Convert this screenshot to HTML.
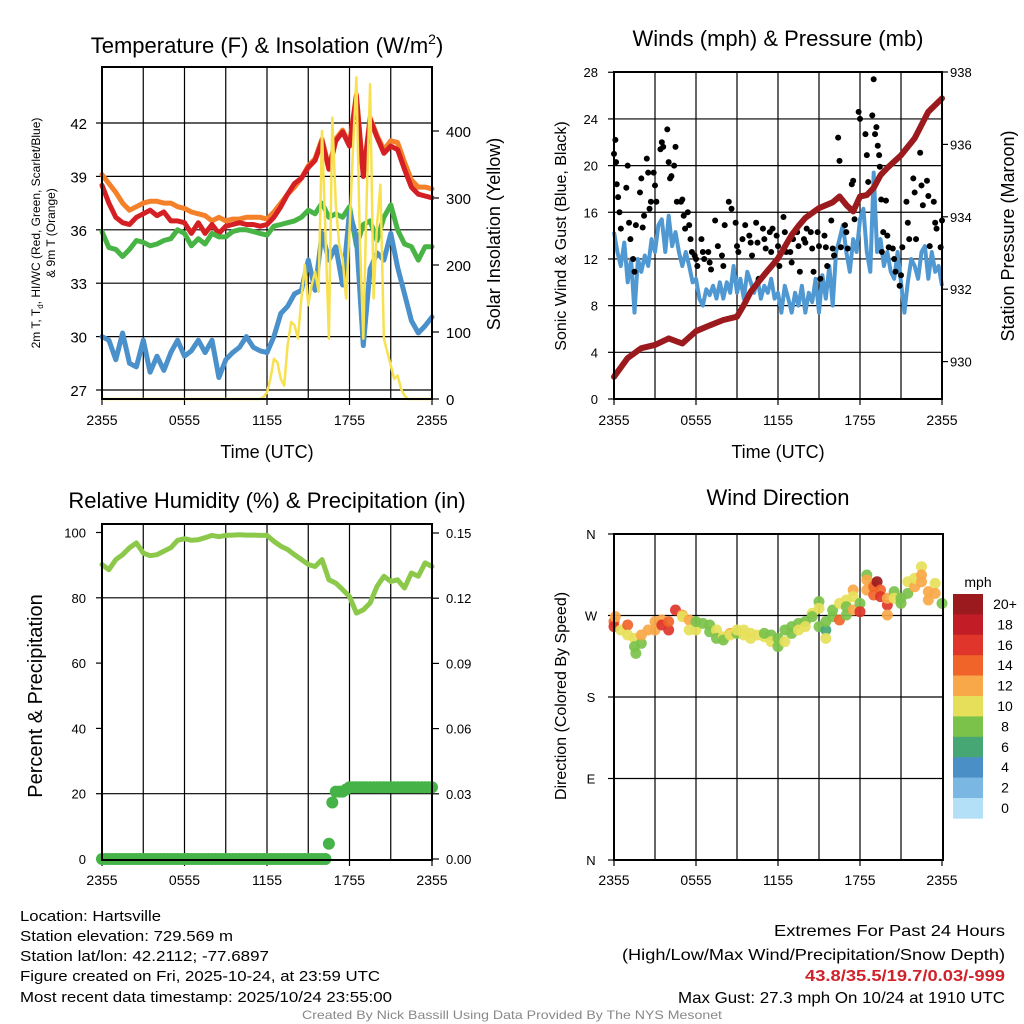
<!DOCTYPE html>
<html><head><meta charset="utf-8">
<style>
html,body{margin:0;padding:0;background:#fff;}
svg{display:block;font-family:"Liberation Sans",Arial,sans-serif;}
</style></head>
<body>
<svg id="fig" xmlns="http://www.w3.org/2000/svg" width="1024" height="1024" viewBox="0 0 1024 1024">
<rect x="0" y="0" width="1024" height="1024" fill="#fff"/>
<text x="267" y="53" font-size="22" text-anchor="middle">Temperature (F) &amp; Insolation (W/m<tspan font-size="14" dy="-9">2</tspan><tspan dy="9">)</tspan></text>
<text x="778" y="46" font-size="22" text-anchor="middle">Winds (mph) &amp; Pressure (mb)</text>
<text x="267" y="508" font-size="22" text-anchor="middle">Relative Humidity (%) &amp; Precipitation (in)</text>
<text x="778" y="505" font-size="22" text-anchor="middle">Wind Direction</text>
<text x="267" y="458" font-size="18" text-anchor="middle">Time (UTC)</text>
<text x="778" y="458" font-size="18" text-anchor="middle">Time (UTC)</text>
<text transform="translate(40,233) rotate(-90)" font-size="12" text-anchor="middle">2m T, T<tspan font-size="8" dy="3">d</tspan><tspan dy="-3">, HI/WC (Red, Green, Scarlet/Blue)</tspan></text>
<text transform="translate(55,233) rotate(-90)" font-size="12" text-anchor="middle">&amp; 9m T (Orange)</text>
<text transform="translate(500,234) rotate(-90)" font-size="18" text-anchor="middle">Solar Insolation (Yellow)</text>
<text transform="translate(566,236) rotate(-90)" font-size="16" text-anchor="middle">Sonic Wind &amp; Gust (Blue, Black)</text>
<text transform="translate(1014,236) rotate(-90)" font-size="18" text-anchor="middle">Station Pressure (Maroon)</text>
<text transform="translate(42,696) rotate(-90)" font-size="20" text-anchor="middle">Percent &amp; Precipitation</text>
<text transform="translate(566,696) rotate(-90)" font-size="16" text-anchor="middle">Direction (Colored By Speed)</text>
<text x="978" y="587" font-size="14" text-anchor="middle">mph</text>
<g font-size="15">
<text x="20" y="921" textLength="141" lengthAdjust="spacingAndGlyphs">Location: Hartsville</text>
<text x="20" y="941" textLength="213" lengthAdjust="spacingAndGlyphs">Station elevation: 729.569 m</text>
<text x="20" y="961" textLength="249" lengthAdjust="spacingAndGlyphs">Station lat/lon: 42.2112; -77.6897</text>
<text x="20" y="981" textLength="360" lengthAdjust="spacingAndGlyphs">Figure created on Fri, 2025-10-24, at 23:59 UTC</text>
<text x="20" y="1002" textLength="372" lengthAdjust="spacingAndGlyphs">Most recent data timestamp: 2025/10/24 23:55:00</text>
</g>
<g font-size="16" text-anchor="end">
<text x="1005" y="936" textLength="231" lengthAdjust="spacingAndGlyphs">Extremes For Past 24 Hours</text>
<text x="1005" y="960" textLength="383" lengthAdjust="spacingAndGlyphs">(High/Low/Max Wind/Precipitation/Snow Depth)</text>
<text x="1005" y="981" fill="#d0222a" font-weight="bold" textLength="200" lengthAdjust="spacingAndGlyphs">43.8/35.5/19.7/0.03/-999</text>
<text x="1005" y="1003" textLength="327" lengthAdjust="spacingAndGlyphs">Max Gust: 27.3 mph On 10/24 at 1910 UTC</text>
</g>
<text x="512" y="1019" font-size="12" fill="#888" text-anchor="middle" textLength="420" lengthAdjust="spacingAndGlyphs">Created By Nick Bassill Using Data Provided By The NYS Mesonet</text>
<g id="charts"></g>
</svg>
<script>
// ---------- DATA ----------
const xTickLabels = ["2355","0555","1155","1755","2355"];
const tempTicks = [27,30,33,36,39,42];
const solarTicks = [0,100,200,300,400];
const windTicks = [0,4,8,12,16,20,24,28];
const pressTicks = [930,932,934,936,938];
const rhTicks = [0,20,40,60,80,100];
const precipTicks = ["0.00","0.03","0.06","0.09","0.12","0.15"];
const dirTickLabels = ["N","E","S","W","N"];
const speedLabels = ["0","2","4","6","8","10","12","14","16","18","20+"];
const speedColors = ["#b3e0f6","#7ab7e3","#4a8fc6","#46a674","#7bc24a","#e6df5a","#f8a848","#f0642a","#e0352a","#c21d27","#9b1a1e"];

// half-hour series, hours 0..24
const tempRed = [38.5,37.5,36.7,36.4,36.3,36.7,36.9,37.1,36.8,37.0,36.5,36.5,36.4,35.8,36.4,35.8,36.3,35.8,36.2,36.3,36.4,36.3,36.3,36.2,36.3,36.7,37.3,38.0,38.6,38.9,39.5,39.9,41.0,39.4,41.0,41.5,40.7,43.5,39.0,42.2,41.2,40.3,40.7,40.5,39.4,38.4,38.0,37.9,37.8];
const temp9m = [39.1,38.6,38.1,37.5,37.1,37.3,37.5,37.6,37.6,37.5,37.5,37.3,37.2,37.0,36.9,36.8,36.5,36.7,36.5,36.6,36.6,36.7,36.7,36.7,36.6,37.0,37.5,38.0,38.4,38.9,39.6,40.0,41.1,39.5,41.1,41.6,40.8,43.6,39.1,42.3,41.3,40.5,41.0,40.9,39.8,38.8,38.4,38.4,38.3];
const tempDew = [35.9,35.0,34.9,34.5,34.9,35.4,35.3,35.1,35.2,35.4,35.5,36.0,35.8,35.1,35.5,35.2,35.8,35.6,35.6,35.9,36.0,36.0,35.9,35.8,35.7,36.2,36.3,36.4,36.5,36.7,37.1,36.9,37.5,36.7,36.9,36.7,37.3,35.1,36.3,36.5,35.4,36.7,37.4,36.0,35.2,35.05,34.3,35.05,35.05];
const tempWC = [30.0,29.8,28.7,30.2,28.5,28.3,29.8,28.0,28.9,28.1,29.1,29.8,28.9,29.2,29.8,29.1,29.8,27.7,28.7,29.1,29.4,30.0,29.4,29.2,29.1,30.0,31.3,31.7,32.4,32.6,34.3,32.6,35.8,34.3,35.05,32.9,37.0,35.6,29.5,33.8,34.7,34.3,35.8,33.9,32.4,30.9,30.2,30.6,31.1];
// quarter-hour solar insolation
const solar = [0,0,0,0,0,0,0,0,0,0,0,0,0,0,0,0,0,0,0,0,0,0,0,0,0,0,0,0,0,0,0,0,0,0,0,0,0,0,0,0,0,0,0,0,0,0,0,3,10,30,60,55,30,20,80,115,110,90,150,200,140,170,190,160,400,250,90,420,290,230,210,150,250,370,480,240,90,300,470,150,260,320,90,70,50,30,35,15,5,0,0,0,0,0,0,0,0];
// quarter-hour sonic wind (mph)
const windSpeed = [14.3,12.6,11.4,13.4,10,12,7.4,12,10.9,12.3,11.4,13.7,12.6,14.9,15.4,12.6,15.7,13.1,14.3,12.6,11.4,12.6,11.4,10,10.3,8.6,8,9.4,8.9,9.7,8.6,10,8.6,10,9.1,11.4,9.1,10.3,8.6,10.9,10,9.1,10.3,8.6,9.7,9.1,10.3,8.6,9.1,7.4,9.7,8.6,7.4,9.1,8,9.7,7.4,9.1,8.3,10.3,7.4,10.6,8.6,11.4,8,12.6,13.7,14.9,12.6,10.9,13.7,12.6,15.4,16.3,12.6,10.9,19.4,12.6,13.7,11.4,12.6,10.9,10.3,12.6,10,7.4,10,12,11.4,10.3,12.6,13.1,10.3,12.6,10.9,11.4,9.7];
// hourly station pressure (mb)
const pressure = [929.58,930.1,930.37,930.46,930.64,930.5,930.84,931.0,931.15,931.24,931.93,932.4,932.85,933.5,933.97,934.24,934.4,934.33,934.56,934.8,935.35,935.7,936.17,936.9,937.27];
const pressureHalf = [null,null,null,null,null,null,null,null,null,931.56,null,null,null,933.75,null,null,934.56,934.15,934.6,935.15,null,null,null,null,null];
// gusts (time in hours, mph)
const gustHours = [0,0.1,0.15,0.2,0.3,0.4,0.5,0.9,1.0,1.1,1.2,1.4,1.5,1.6,1.9,2.0,2.1,2.2,2.4,2.5,2.6,2.7,2.9,3.0,3.1,3.4,3.5,3.6,3.9,4.0,4.1,4.2,4.4,4.5,4.6,4.9,5.0,5.1,5.2,5.4,5.5,5.6,5.7,5.9,6.0,6.1,6.4,6.5,6.6,6.9,7.0,7.1,7.4,7.6,7.9,8.0,8.1,8.4,8.6,8.9,9.0,9.1,9.4,9.6,9.9,10.0,10.1,10.4,10.5,10.6,10.9,11.0,11.1,11.4,11.5,11.6,11.9,12.0,12.1,12.4,12.5,12.6,12.9,13.0,13.1,13.4,13.5,13.6,13.9,14.0,14.1,14.4,14.5,14.6,14.9,15.0,15.1,15.4,15.5,15.6,15.9,16.0,16.1,16.4,16.5,16.6,16.9,17.0,17.1,17.4,17.5,17.6,17.9,18.0,18.1,18.4,18.5,18.6,18.9,19.0,19.1,19.2,19.3,19.4,19.45,19.55,19.6,19.7,19.9,20.0,20.1,20.4,20.5,20.6,20.9,21.0,21.1,21.4,21.5,21.6,21.9,22.0,22.1,22.4,22.5,22.6,22.9,23.0,23.1,23.4,23.5,23.6,23.9,24.0];
const gustMph = [21,22.2,20.3,18.4,17.3,16,14.6,18.1,20,15.1,13.7,12,10.9,14.9,17.7,18.9,14.7,15.7,20.6,19.4,16.3,16.9,19.4,18.3,16.9,21.4,22,21.6,23.1,20.3,18.9,19.1,20,21.6,16.9,16.9,17.1,15.7,14.6,16,14.9,13.7,12.6,12.3,12,11.4,13.7,12.6,12,12.6,11.7,11.1,15.3,13.1,12.3,11.4,14.9,16.9,16.3,15.1,13.1,12.6,13.7,14.9,14,13.4,12.3,15.1,13.4,10.3,14.6,13.7,12.9,14.3,12.6,14.6,14,13.1,11.4,15.6,14.3,12.6,12.6,11.7,13.7,14.3,13.1,10.9,13.7,13.4,14.6,14.3,12.9,10.9,14.3,13.1,10.3,14,13,11.4,15.3,12.9,12.3,22.4,20.4,13,14.9,14.3,12.9,18.4,18.7,15.4,24.6,24,17.4,22.7,20.9,18.6,24.3,27.4,22.7,23.3,21.7,20.9,19.9,17.1,12.6,14.3,17,14,13,12.9,12,10.9,9.7,10.6,13,16.9,15.1,13.7,18.9,17.7,13.7,21.1,18.3,16.6,18.7,17.4,13.1,16.9,15.1,14.6,13,15.3];
// half-hour relative humidity
const rh = [90.2,88.6,91.7,93.2,95.3,96.8,93.7,92.9,93.2,94.3,95.3,97.6,98.1,97.6,97.8,98.4,99.1,98.7,99.1,99.2,99.3,99.2,99.2,99.1,99.1,97.3,95.8,94.8,93.2,91.7,90.2,89.6,91.7,85.5,84.5,82.5,80.4,75.3,76.3,78.4,83.5,86.6,85.0,85.5,83.0,87.6,86.6,90.7,89.6];
// quarter-hour accumulated precipitation (in)
const precip = [0,0,0,0,0,0,0,0,0,0,0,0,0,0,0,0,0,0,0,0,0,0,0,0,0,0,0,0,0,0,0,0,0,0,0,0,0,0,0,0,0,0,0,0,0,0,0,0,0,0,0,0,0,0,0,0,0,0,0,0,0,0,0,0,0,0,0.007,0.026,0.031,0.031,0.031,0.032,0.033,0.033,0.033,0.033,0.033,0.033,0.033,0.033,0.033,0.033,0.033,0.033,0.033,0.033,0.033,0.033,0.033,0.033,0.033,0.033,0.033,0.033,0.033,0.033,0.033];
// wind direction samples
const dirHours = [0,0,0.1,0.5,1,1,1.5,1.5,1.6,2,2,2.5,3,3,3.5,3.5,4,4,4.5,5,5,5.5,5.5,6,6,6.5,7,7,7.5,7.5,8,8,8.5,8.5,9,9,9.5,9.5,10,10,10.5,11,11,11.5,11.5,12,12,12.5,12.5,13,13,13.5,13.5,14,14,14.5,14.5,15,15,15,15.5,15.5,15.5,16,16,16.5,16.5,17,17,17,17.5,17.5,17.5,18,18,18.5,18.5,18.5,19,19,19,19.25,19.5,19.5,20,20,20,20.5,20.5,21,21,21.5,21.5,22,22,22.5,22.5,22.5,23,23,23.5,23.5,24];
const dirDeg = [263.2,257.7,268.7,254,259.5,248.5,244.8,235.6,228.2,239.3,248.5,254,263.2,254,265,259.5,254,263.2,276.1,270.5,268.7,265,254,254,263.2,261.3,259.5,252.1,254,244.8,246.6,242.9,250.3,248.5,250.3,254,254,248.5,250.3,244.8,248.5,246.6,250.3,248.5,241.1,244.8,235.6,241.1,254,257.7,250.3,261.3,254,263.2,257.7,272.4,268.7,285.3,277.9,257.7,254,244.8,263.2,268.7,276.1,265,283.4,287.1,270.5,279.7,298.1,276.1,290.8,283.4,274.2,298.1,314.7,309.2,305.5,292.6,301.8,307.3,298.1,290.8,281.6,270.5,289,296.3,289,283.4,289,307.3,294.5,301.8,311,323.9,314.7,307.3,296.3,287.1,305.5,294.5,283.4];
const dirSpeed = [14,16,12,10,14,10,10,8,8,9,12,12,12,12,12,16,16,14,16,12,10,12,10,10,8,8,8,8,10,8,10,8,12,10,8,10,10,10,10,10,10,10,8,8,10,8,8,10,8,8,8,8,10,8,10,10,8,8,10,8,6,10,8,8,8,15,10,10,8,8,13,12,10,8,17,13,8,12,12,15,14,21,14,16,16,13,12,8,10,8,8,10,8,12,10,10,12,12,12,12,10,12,8];

// ---------- AXES ----------
const x1 = h => 102 + h * 330 / 24;
const yT = t => 390 - (t - 27) * 17.8;
const yS = w => 399 - w * 0.67;
const x2 = h => 614 + h * 328 / 24;
const yW = m => 399 - m * 11.67;
const yP = p => 72 + (938 - p) * 36.2;
const yR = r => 859 - r * 3.265;
const yPr = i => 859 - i * 326 / 0.15;
const yD = d => 860 - d * 326 / 360;

const NS = "http://www.w3.org/2000/svg";
const root = document.getElementById("charts");
function mk(tag, attrs, parent) {
  const e = document.createElementNS(NS, tag);
  for (const k in attrs) e.setAttribute(k, attrs[k]);
  (parent || root).appendChild(e);
  return e;
}
function polyPts(vals, step, fx, fy) {
  const pts = [];
  vals.forEach((v, i) => { if (v !== null) pts.push(fx(i * step).toFixed(1) + "," + fy(v).toFixed(1)); });
  return pts.join(" ");
}

function frame(name, L, T, R, B, vLines, hLines) {
  const g = mk("g", {});
  
  
  vLines.forEach(x => {
    const l = mk("line", {x1: x, y1: T, x2: x, y2: B, stroke: "#000", "stroke-width": 1.2}, g);
    
    
  });
  hLines.forEach(y => {
    const l = mk("line", {x1: L, y1: y, x2: R, y2: y, stroke: "#000", "stroke-width": 1.2}, g);
    
    
  });
  return g;
}
function border(name, L, T, R, B) {
  const r = mk("rect", {x: L, y: T, width: R - L, height: B - T, fill: "none", stroke: "#000", "stroke-width": 2});
  
  
}
function label(txt, x, y, anchor, size, name) {
  const t = mk("text", {x: x, y: y, "text-anchor": anchor, "font-size": size});
  t.textContent = txt;
  
  
  return t;
}
function tick(x1_, y1_, x2_, y2_) {
  const l = mk("line", {x1: x1_, y1: y1_, x2: x2_, y2: y2_, stroke: "#000", "stroke-width": 1.2});
  
  
}
const gridHours = [3,6,9,12,15,18,21];

// ===== Panel 1 =====
frame("temperature", 102, 67, 432, 399, gridHours.map(x1), tempTicks.map(yT));
tempTicks.forEach(t => { label(String(t), 87, yT(t) + 6, "end", 15, "temperature-tick-label"); tick(96, yT(t), 102, yT(t)); });
solarTicks.forEach(w => { label(String(w), 446, yS(w) + 6, "start", 15, "solar-tick-label"); tick(432, yS(w), 439, yS(w)); });
xTickLabels.forEach((s, i) => { label(s, x1(i * 6), 425, "middle", 14, "x-tick-label"); tick(x1(i * 6), 399, x1(i * 6), 405); });
[["temp-9m-line", temp9m, "#f4802a"], ["temp-red-line", tempRed, "#d42025"], ["dewpoint-line", tempDew, "#49b446"], ["windchill-line", tempWC, "#4a90cb"]].forEach(s => {
  const p = mk("polyline", {points: polyPts(s[1], 0.5, x1, yT), fill: "none", stroke: s[2], "stroke-width": 5, "stroke-linejoin": "round", "stroke-linecap": "round"});
  
  
});
const solarLine = mk("polyline", {points: polyPts(solar, 0.25, x1, yS), fill: "none", stroke: "#f7e151", "stroke-width": 2.5, "stroke-linejoin": "round"});


border("temperature", 102, 67, 432, 399);

// ===== Panel 2 =====
frame("wind", 614, 72, 942, 399, gridHours.map(x2), windTicks.slice(1, 7).map(yW));
windTicks.forEach(m => { label(String(m), 598, yW(m) + 5, "end", 13, "wind-tick-label"); tick(608, yW(m), 614, yW(m)); });
pressTicks.forEach(p => { label(String(p), 950, yP(p) + 5, "start", 13, "pressure-tick-label"); tick(942, yP(p), 948, yP(p)); });
xTickLabels.forEach((s, i) => { label(s, x2(i * 6), 425, "middle", 14, "x-tick-label"); tick(x2(i * 6), 399, x2(i * 6), 405); });
const wl = mk("polyline", {points: polyPts(windSpeed, 0.25, x2, yW), fill: "none", stroke: "#4f98d2", "stroke-width": 4, "stroke-linejoin": "round"});


gustHours.forEach((h, i) => {
  const c = mk("circle", {cx: x2(h), cy: yW(gustMph[i]), r: 3, fill: "#000"});
  
  
});
const pMerged = [];
pressure.forEach((p, i) => { pMerged.push([i, p]); if (pressureHalf[i] !== null && pressureHalf[i] !== undefined) pMerged.push([i + 0.5, pressureHalf[i]]); });
pMerged.sort((a, b) => a[0] - b[0]);
const pl = mk("polyline", {points: pMerged.map(d => x2(d[0]).toFixed(1) + "," + yP(d[1]).toFixed(1)).join(" "), fill: "none", stroke: "#9b1a1e", "stroke-width": 6, "stroke-linejoin": "round", "stroke-linecap": "round"});


border("wind", 614, 72, 942, 399);

// ===== Panel 3 =====
frame("humidity", 102, 524, 432, 860, gridHours.map(x1), [yR(20), yR(80)]);
rhTicks.forEach(r => { label(String(r), 86, yR(r) + 5, "end", 13, "humidity-tick-label"); tick(96, yR(r), 102, yR(r)); });
precipTicks.forEach(s => { const v = parseFloat(s); label(s, 446, yPr(v) + 5, "start", 13, "precip-tick-label"); tick(432, yPr(v), 439, yPr(v)); });
xTickLabels.forEach((s, i) => { label(s, x1(i * 6), 885, "middle", 14, "x-tick-label"); tick(x1(i * 6), 860, x1(i * 6), 866); });
const rl = mk("polyline", {points: polyPts(rh, 0.5, x1, yR), fill: "none", stroke: "#8cc94a", "stroke-width": 5, "stroke-linejoin": "round", "stroke-linecap": "round"});


precip.forEach((v, i) => {
  const c = mk("circle", {cx: x1(i * 0.25), cy: yPr(v), r: 6, fill: "#45b347"});
  
  
});
border("humidity", 102, 524, 432, 860);

// ===== Panel 4 =====
frame("direction", 614, 534, 943, 860, gridHours.map(x2), [yD(90), yD(180), yD(270)]);
dirTickLabels.forEach((s, i) => { label(s, 591, yD(i * 90) + 5, "middle", 13, "direction-tick-label"); tick(608, yD(i * 90), 614, yD(i * 90)); });
xTickLabels.forEach((s, i) => { label(s, x2(i * 6), 885, "middle", 14, "x-tick-label"); tick(x2(i * 6), 860, x2(i * 6), 866); });
dirHours.forEach((h, i) => {
  const bin = Math.min(10, Math.floor(dirSpeed[i] / 2));
  const c = mk("circle", {cx: x2(h), cy: yD(dirDeg[i]), r: 5.5, fill: speedColors[bin], "fill-opacity": 0.92});
  
  
});
border("direction", 614, 534, 943, 860);

// colorbar
const cbTop = 594, cbH = 20.4;
speedLabels.forEach((s, i) => {
  const k = speedLabels.length - 1 - i;
  const r = mk("rect", {x: 953, y: cbTop + i * cbH, width: 30, height: cbH + 0.3, fill: speedColors[k]});
  
  
  label(speedLabels[k], 1005, cbTop + i * cbH + 15, "middle", 14, "colorbar-label");
});
</script>
</body></html>
